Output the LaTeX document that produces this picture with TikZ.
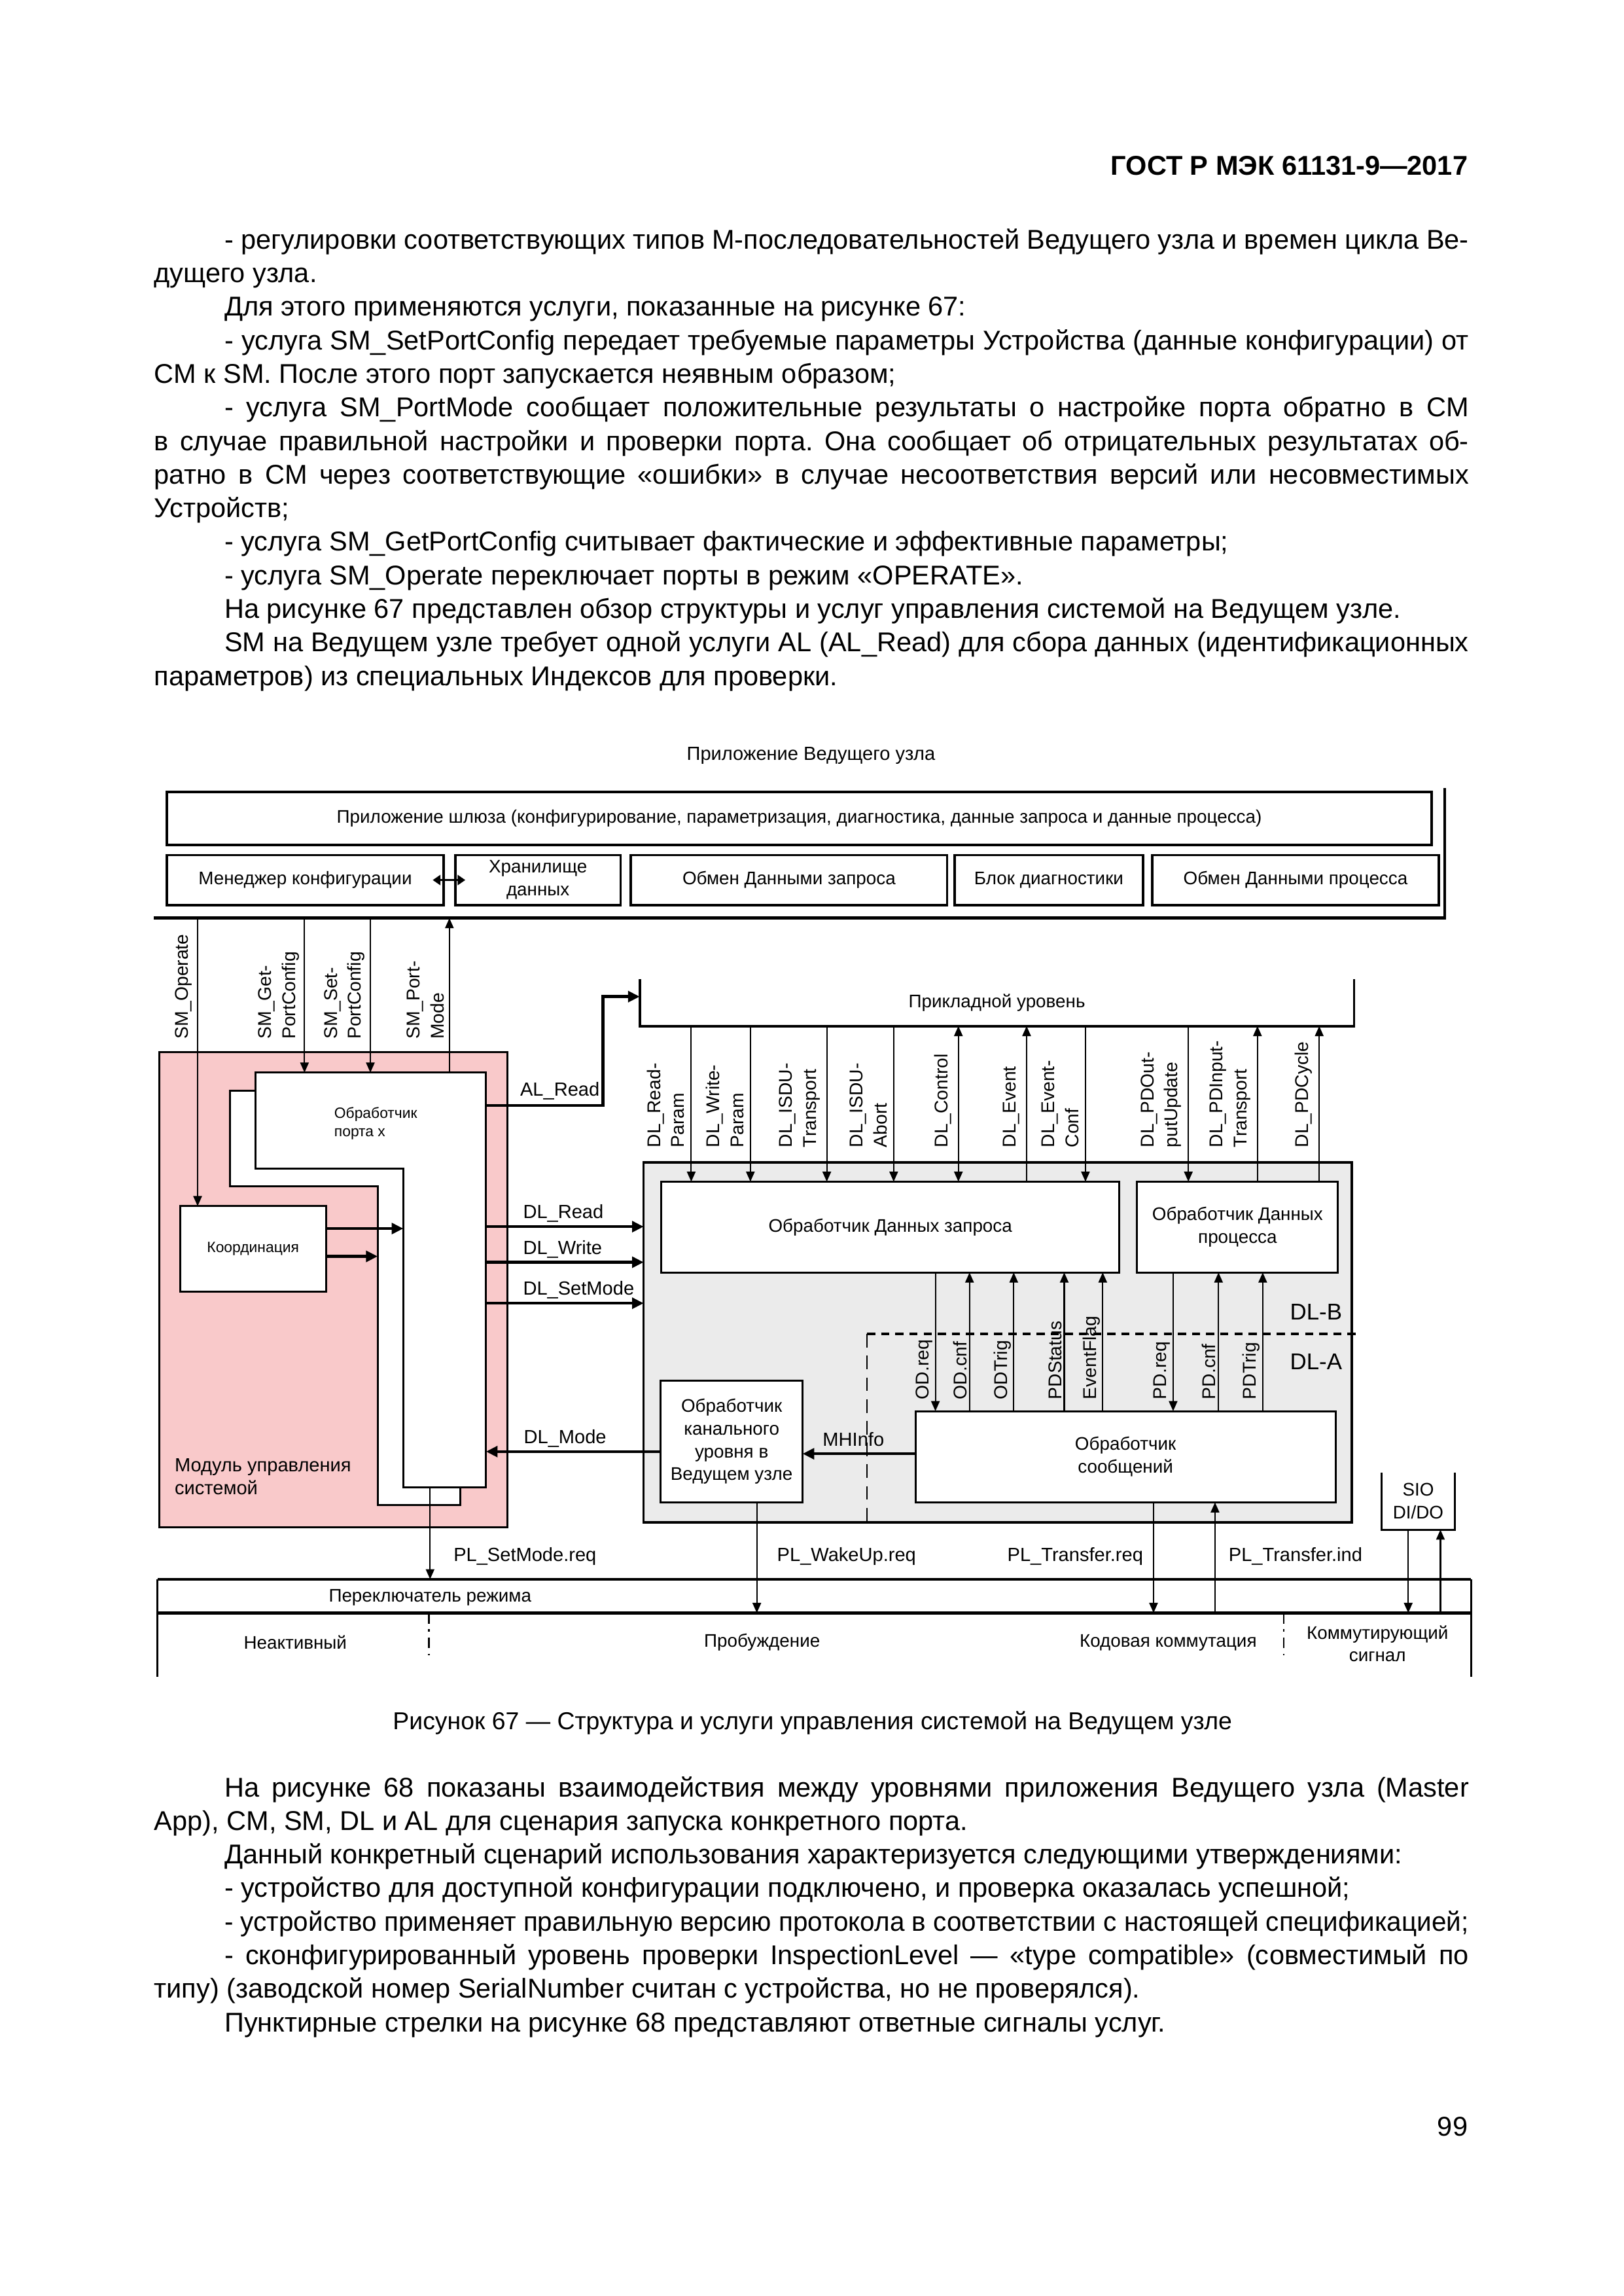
\documentclass[tikz,border=0pt]{standalone}
\usepackage{fontspec}
\usepackage{graphicx}
\setmainfont{Liberation Sans}
\usetikzlibrary{arrows.meta,calc}
\definecolor{smpink}{RGB}{249,201,202}
\definecolor{dlgray}{RGB}{235,235,235}
\tikzset{
  page text/.style={font=\fontsize{10}{12.35}\selectfont,inner sep=0pt},
  body text/.style={page text,anchor=base west,text width=170.05mm,align=justify},
  diag text/.style={font=\fontsize{7}{8.4}\selectfont,inner sep=0pt},
  box text/.style={font=\fontsize{6.7}{8.4}\selectfont,inner sep=0pt,align=center},
  small text/.style={font=\fontsize{5.5}{6.8}\selectfont,inner sep=0pt,align=left},
  span/.style args={#1:#2:#3:#4}{minimum width={(#3-#1)*0.18936mm},minimum height={(#4-#2)*0.18936mm},
    at={({(#1+#3)/2},{(#2+#4)/2})}},
  frame/.style={inner sep=0pt,outer sep=0pt},
  block/.style={draw,line width=0.7pt,fill=white,frame,box text},
  top block/.style={block,line width=0.9pt},
  sig line/.style={line width=0.5pt},
  sig down/.style={sig line,-{Triangle[length=1.3mm,width=1.1mm]}},
  sig up/.style={sig line,{Triangle[length=1.3mm,width=1.1mm]}-},
  sig both/.style={sig line,{Triangle[length=1.3mm,width=1.1mm]}-{Triangle[length=1.3mm,width=1.1mm]}},
  bold arrow/.style={line width=1.1pt,-{Triangle[length=1.5mm,width=1.4mm]}},
  rot label/.style={rotate=90,anchor=south west,inner sep=0pt,align=left,font=\fontsize{6.8}{8.8}\selectfont},
  layer dash/.style={line width=0.9pt,dash pattern=on 3pt off 2.2pt},
  split dash/.style={line width=0.6pt,dash pattern=on 5pt off 3pt},
  mode dash/.style={line width=0.5pt,dash pattern=on 4pt off 2pt on 1pt off 2pt},
}
\newcommand{\para}{\par\hspace*{9.1mm}\ignorespaces}
\newcommand{\textsetup}{\frenchspacing\hyphenpenalty=10000\exhyphenpenalty=10000\tolerance=9999\relax}

\begin{document}
\begin{tikzpicture}[x=0.18936mm,y=-0.18936mm]
\useasboundingbox (0,0) rectangle (1109,1568);

\node[page text,font=\bfseries\fontsize{10}{12}\selectfont,anchor=base east] (hdr) at (1003,119.7) {ГОСТ Р МЭК 61131-9—2017};

\node[body text] (intro) at (105,170) {\textsetup\hspace*{9.1mm}- регулировки соответствующих типов М-последовательностей Ведущего узла и времен цикла Ве-\linebreak дущего узла.
\para Для этого применяются услуги, показанные на рисунке 67:
\para - услуга SM\_SetPortConfig передает требуемые параметры Устройства (данные конфигурации) от\linebreak CM к SM. После этого порт запускается неявным образом;
\para - услуга SM\_PortMode сообщает положительные результаты о настройке порта обратно в CM\linebreak в случае правильной настройки и проверки порта. Она сообщает об отрицательных результатах об-\linebreak ратно в CM через соответствующие «ошибки» в случае несоответствия версий или несовместимых\linebreak Устройств;
\para - услуга SM\_GetPortConfig считывает фактические и эффективные параметры;
\para - услуга SM\_Operate переключает порты в режим «OPERATE».
\para На рисунке 67 представлен обзор структуры и услуг управления системой на Ведущем узле.
\para SM на Ведущем узле требует одной услуги AL (AL\_Read) для сбора данных (идентификационных\linebreak параметров) из специальных Индексов для проверки.\par};

\node[diag text] (apptitle) at (554,516) {Приложение Ведущего узла};
\draw[line width=1.1pt] (105,627) coordinate (appbase) -- (987,627) -- (987,538);
\node[top block,span=114:541:978:577] (gw) {Приложение шлюза (конфигурирование, параметризация, диагностика, данные запроса и данные процесса)};
\node[top block,span=114:584:303:618] (cfgmgr) {Менеджер конфигурации};
\node[top block,span=311:584:424:618] (store) {Хранилище\\данных};
\node[top block,span=431:584:647:618] (odx) {Обмен Данными запроса};
\node[top block,span=652:584:781:618] (diag) {Блок диагностики};
\node[top block,span=787:584:983:618] (pdx) {Обмен Данными процесса};
\draw[line width=0.9pt,{Triangle[length=1mm,width=1.3mm]}-{Triangle[length=1mm,width=1.3mm]},shorten <=-1.4mm,shorten >=-1.3mm] (cfgmgr.east) -- (store.west);

\node[draw,line width=0.7pt,fill=smpink,frame,span=108.7:718.6:346.6:1043] (smod) {};
\node[diag text,align=left,anchor=west] (smodtxt) at (119,1008.5) {Модуль управления\\системой};
\draw[line width=0.7pt,fill=white] (157,744.7) -- (314.5,744.7) -- (314.5,1027.8) -- (258,1027.8) -- (258,810.2) coordinate (shstem) -- (157,810.2) -- cycle;
\draw[line width=0.7pt,fill=white] (174.5,732.5) -- (332,732.5) -- (332,1015.6) -- (275.5,1015.6) -- (275.5,798) coordinate (stem) -- (174.5,798) -- cycle;
\node[frame,span=174.5:732.5:332:1015.6] (port) {};
\node[small text,anchor=west] (porttxt) at (228,767.3) {Обработчик\\порта x};
\node[block,span=123:823.7:222.7:882,font=\fontsize{5.5}{6.8}\selectfont] (coord) {Координация};
\draw[bold arrow] (coord.east |- 0,839) -- (stem |- 0,839);
\draw[bold arrow] (coord.east |- 0,858) -- (shstem |- 0,858);

\draw[sig down] (appbase -| 135,0) -- (coord.north -| 135,0);
\draw[sig down] (appbase -| 208,0) -- (port.north -| 208,0);
\draw[sig down] (appbase -| 253,0) -- (port.north -| 253,0);
\draw[sig up] (appbase -| 307,0) -- (port.north -| 307,0);
\node[rot label] (smop) at (131.7,710) {SM\_Operate};
\node[rot label] (smget) at (204.7,710) {SM\_Get-\\PortConfig};
\node[rot label] (smset) at (249.7,710) {SM\_Set-\\PortConfig};
\node[rot label] (smpm) at (303.7,710) {SM\_Port-\\Mode};

\node[frame,box text,span=437:668.6:925:700.7] (appl) {Прикладной уровень};
\draw[line width=0.9pt] (appl.north west) -- (appl.south west) -- (appl.south east) -- (appl.north east);
\draw[bold arrow] (port.east |- 0,755) -- ++(80,0) |- (appl.west |- 0,680.6);
\node[diag text,anchor=west] (alread) at (355,745) {AL\_Read};

\node[draw,line width=0.8pt,fill=dlgray,frame,span=439.7:793.8:923.5:1039.7] (dl) {};
\node[block,span=451.7:807:764.7:869] (odh) {Обработчик Данных запроса};
\node[block,span=776.8:807:914:869] (pdh) {Обработчик Данных\\процесса};
\foreach \x/\lbl/\dir/\to in {472.2/{DL\_Read-\\Param}/down/odh, 512.6/{DL\_Write-\\Param}/down/odh,
  564.8/{DL\_ISDU-\\Transport}/down/odh, 610.5/{DL\_ISDU-\\Abort}/down/odh, 654.7/{DL\_Control}/both/odh,
  701.3/{DL\_Event}/up/odh, 741.5/{DL\_Event-\\Conf}/down/odh, 811.8/{DL\_PDOut-\\putUpdate}/down/pdh,
  859/{DL\_PDInput-\\Transport}/up/pdh, 901.2/{DL\_PDCycle}/up/pdh} {
  \draw[sig \dir] (appl.south -| \x,0) -- (\to.north -| \x,0);
  \node[rot label] at (\x-4.3,784) {\lbl};
}

\draw[layer dash] (592.3,911) coordinate (dlsplit) -- (927,911);
\draw[split dash] (dlsplit) -- (dl.south -| dlsplit);
\node[inner sep=0pt,font=\fontsize{8.4}{10}\selectfont] (dlb) at (899,896) {DL-B};
\node[inner sep=0pt,font=\fontsize{8.4}{10}\selectfont] (dla) at (899,930) {DL-A};

\node[block,span=625.4:963.7:912.3:1026] (msg) {Обработчик\\сообщений};
\node[block,span=451.3:942.7:548.3:1026] (chan) {Обработчик\\канального\\уровня в\\Ведущем узле};
\foreach \x/\lbl/\dir/\from in {639/OD.req/down/odh, 662.3/OD.cnf/up/odh, 692.5/ODTrig/up/odh,
  727/PDStatus/up/odh, 753.3/EventFlag/up/odh, 801.4/PD.req/down/pdh, 832.4/PD.cnf/up/pdh, 862.6/PDTrig/up/pdh} {
  \draw[sig \dir] (\from.south -| \x,0) -- (msg.north -| \x,0);
  \node[rot label] at (\x-1.5,956) {\lbl};
}

\draw[bold arrow] (msg.west |- 0,992.8) -- (chan.east |- 0,992.8);
\node[diag text] (mhinfo) at (583,983) {MHInfo};
\draw[bold arrow] (chan.west |- 0,991.3) -- (port.east |- 0,991.3);
\node[diag text,anchor=west] (dlmode) at (357.5,982.4) {DL\_Mode};
\foreach \y/\lbl/\nm in {837.7/DL\_Read/dlread, 862/DL\_Write/dlwrite, 890/DL\_SetMode/dlsetmode} {
  \draw[bold arrow] (port.east |- 0,\y) -- (dl.west |- 0,\y);
  \node[diag text,anchor=west] (\nm) at (357,\y-9) {\lbl};
}

\node[frame,span=107.5:1078.5:1005:1101.5] (modesw) {};
\draw[line width=1.1pt] (modesw.north west) -- (modesw.north east);
\draw[line width=1.1pt] (modesw.south west) -- (modesw.south east);
\draw[line width=0.6pt] (modesw.north west) -- (modesw.north west |- 0,1145);
\draw[line width=0.6pt] (modesw.north east) -- (modesw.north east |- 0,1145);
\node[box text] (modetxt) at (293.8,1091) {Переключатель режима};
\draw[mode dash] (modesw.south -| 293,0) -- ++(0,29);
\draw[mode dash] (modesw.south -| 876.8,0) -- ++(0,29);
\node[box text] (inact) at (201.7,1121.7) {Неактивный};
\node[box text] (wake) at (520.6,1121.7) {Пробуждение};
\node[box text] (coded) at (798,1121.7) {Кодовая коммутация};
\node[box text] (switching) at (941,1122.5) {Коммутирующий\\сигнал};

\draw[sig down] (port.south -| 293.8,0) -- (modesw.north -| 293.8,0);
\node[diag text,anchor=west] (plsetmode) at (309.5,1062.8) {PL\_SetMode.req};
\draw[sig down] (chan.south -| 517,0) -- (modesw.south -| 517,0);
\node[diag text,anchor=west] (plwakeup) at (530.5,1062.8) {PL\_WakeUp.req};
\draw[sig down] (msg.south -| 788,0) -- (modesw.south -| 788,0);
\node[diag text,anchor=west] (pltreq) at (687.8,1062.8) {PL\_Transfer.req};
\draw[sig up] (msg.south -| 830,0) -- (modesw.south -| 830,0);
\node[diag text,anchor=west] (pltind) at (839,1062.8) {PL\_Transfer.ind};

\node[frame,box text,span=943.6:1005.7:994:1044.6] (sio) {SIO\\DI/DO};
\draw[line width=0.7pt] (sio.north west) -- (sio.south west) -- (sio.south east) -- (sio.north east);
\draw[sig down] (sio.south -| 962,0) -- (modesw.south -| 962,0);
\draw[sig up] (sio.south -| 984,0) -- (modesw.south -| 984,0);

\node[page text,font=\fontsize{9}{11}\selectfont,anchor=base] (cap) at (555,1181) {Рисунок 67 — Структура и услуги управления системой на Ведущем узле};

\node[body text] (outro) at (105,1227) {\textsetup\hspace*{9.1mm}На рисунке 68 показаны взаимодействия между уровнями приложения Ведущего узла (Master\linebreak App), CM, SM, DL и AL для сценария запуска конкретного порта.
\para Данный конкретный сценарий использования характеризуется следующими утверждениями:
\para - устройство для доступной конфигурации подключено, и проверка оказалась успешной;
\para \resizebox{160.9mm}{\height}{- устройство применяет правильную версию протокола в соответствии с настоящей спецификацией;}
\para - сконфигурированный уровень проверки InspectionLevel — «type compatible» (совместимый по\linebreak типу) (заводской номер SerialNumber считан с устройства, но не проверялся).
\para Пунктирные стрелки на рисунке 68 представляют ответные сигналы услуг.\par};

\node[page text,anchor=base east] (pgno) at (1003,1458.5) {99};
\end{tikzpicture}
\end{document}
